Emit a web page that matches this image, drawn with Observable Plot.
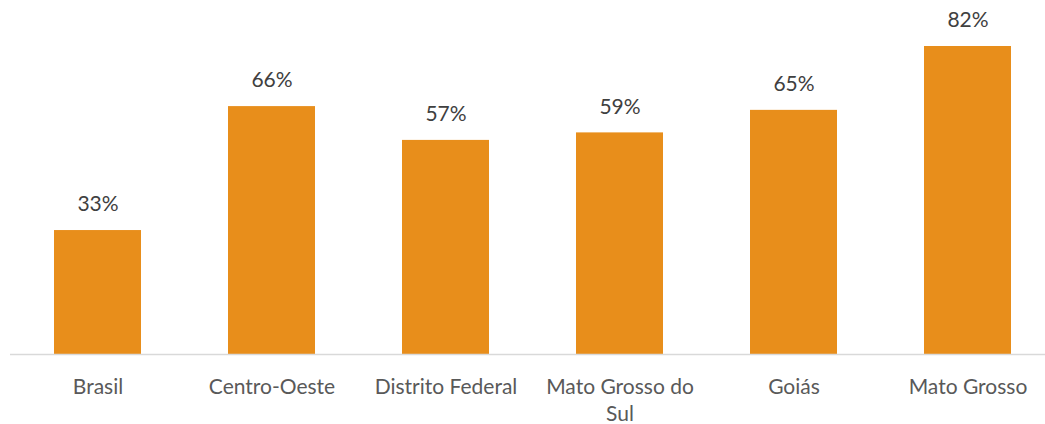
<!DOCTYPE html>
<html>
<head>
<meta charset="utf-8">
<script src="https://cdn.jsdelivr.net/npm/d3@7"></script>
<script src="https://cdn.jsdelivr.net/npm/@observablehq/plot@0.6"></script>
<style>
  html, body { margin: 0; padding: 0; background: #fff; }
  #chart { width: 1045px; height: 424px; }
</style>
</head>
<body>
<div id="chart"></div>
<script>
const categories = ["Brasil", "Centro-Oeste", "Distrito Federal", "Mato Grosso do Sul", "Goiás", "Mato Grosso"];
const values = [33, 66, 57, 59, 65, 82];
const tickLabels = ["Brasil", "Centro-Oeste", "Distrito Federal", "Mato Grosso do\nSul", "Goiás", "Mato Grosso"];

const data = categories.map((c, i) => ({category: c, value: values[i]}));
const labelOf = new Map(categories.map((c, i) => [c, tickLabels[i]]));

const chart = Plot.plot({
  width: 1045,
  height: 424,
  marginTop: 0,
  marginLeft: 10,
  marginRight: 0,
  marginBottom: 70,
  style: {fontFamily: "Lato, sans-serif", background: "#fff"},
  x: {domain: categories, range: [10.5, 1054.5], paddingInner: 0.5, paddingOuter: 0.25, label: null},
  y: {domain: [0, 82], range: [354, 46], axis: null},
  marks: [
    Plot.barY(data, {x: "category", y: "value", fill: "#E88E1B"}),
    Plot.ruleY([0], {stroke: "#D9D9D9", strokeWidth: 1.5}),
    Plot.text(data, {x: "category", y: "value", text: d => d.value + "%", dy: -26, fontSize: 21, fill: "#404040", lineAnchor: "middle"}),
    Plot.axisX({tickSize: 0, tickPadding: 20, fontSize: 21, fill: "#595959", lineHeight: 1.3, tickFormat: d => labelOf.get(d), label: null})
  ]
});
document.getElementById("chart").appendChild(chart);
</script>
</body>
</html>
